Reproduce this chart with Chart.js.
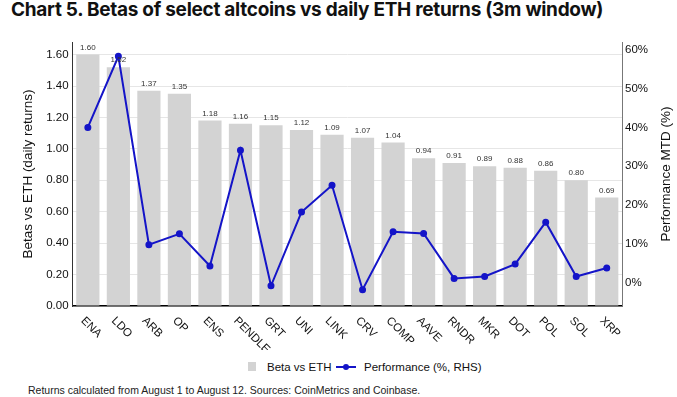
<!DOCTYPE html>
<html lang="en">
<head>
<meta charset="UTF-8">
<title>Chart 5</title>
<style>
  body { margin: 0; background: #fff; font-family: "Liberation Sans", Arial, sans-serif; }
  .wrap { position: relative; width: 677px; height: 397px; overflow: hidden; }
  h1 { position: absolute; left: 11px; top: 0px; margin: 0; font: 700 19px/20px Inter, sans-serif; color: #111; white-space: nowrap; letter-spacing: -0.28px; }
  #box { position: absolute; left: 0; top: 28px; width: 677px; height: 322px; }
  .lg { position: absolute; font-size: 11.5px; color: #111; white-space: nowrap; line-height: 14px; }
  .sq { position: absolute; left: 248px; top: 362px; width: 8px; height: 9px; background: #d3d3d3; }
  .ln { position: absolute; left: 336px; top: 366px; width: 20px; height: 2px; background: #1414c8; }
  .ln::after { content: ""; position: absolute; left: 7px; top: -2px; width: 6px; height: 6px; border-radius: 50%; background: #1414c8; }
  .note { position: absolute; left: 28px; top: 384px; font-size: 10.5px; color: #222; white-space: nowrap; }
</style>
</head>
<body>
<div class="wrap">
  <h1>Chart 5. Betas of select altcoins vs daily ETH returns (3m window)</h1>
  <div id="box"><canvas id="myChart"></canvas></div>
  <span class="sq"></span>
  <span class="lg" style="left:267px; top:360px;">Beta vs ETH</span>
  <span class="ln"></span>
  <span class="lg" style="left:364px; top:360px;">Performance (%, RHS)</span>
  <div class="note">Returns calculated from August 1 to August 12. Sources: CoinMetrics and Coinbase.</div>
</div>

<script src="https://cdn.jsdelivr.net/npm/chart.js"></script>
<script>
const coins = ['ENA', 'LDO', 'ARB', 'OP', 'ENS', 'PENDLE', 'GRT', 'UNI', 'LINK', 'CRV', 'COMP', 'AAVE', 'RNDR', 'MKR', 'DOT', 'POL', 'SOL', 'XRP'];
const betas = [1.60, 1.52, 1.37, 1.35, 1.18, 1.16, 1.15, 1.12, 1.09, 1.07, 1.04, 0.94, 0.91, 0.89, 0.88, 0.86, 0.80, 0.69];
const performance = [40, 58.3, 9.8, 12.6, 4.3, 34.1, -0.8, 18.2, 25.1, -1.8, 13.1, 12.7, 1.1, 1.6, 4.8, 15.6, 1.6, 3.8];
const betaTicks = [0, 0.2, 0.4, 0.6, 0.8, 1.0, 1.2, 1.4, 1.6];
const perfTicks = [0, 10, 20, 30, 40, 50, 60];

const sans = '"Liberation Sans", Arial, sans-serif';
const tickFont = { family: sans, size: 11.5 };

// bar value labels, slanted category labels, right axis title
const extras = {
  id: 'extras',
  afterDatasetsDraw(chart) {
    const ctx = chart.ctx;
    const meta = chart.getDatasetMeta(1);
    ctx.save();
    ctx.font = '8px ' + sans;
    ctx.fillStyle = '#333';
    ctx.textAlign = 'center';
    ctx.textBaseline = 'bottom';
    meta.data.forEach((bar, i) => {
      ctx.fillText(betas[i].toFixed(2), bar.x, bar.y - 3);
    });
    const x = chart.scales.x;
    ctx.font = '11.5px ' + sans;
    ctx.fillStyle = '#111';
    ctx.textAlign = 'left';
    ctx.textBaseline = 'middle';
    coins.forEach((c, i) => {
      ctx.save();
      ctx.translate(x.getPixelForValue(i) - 5, x.top + 13);
      ctx.rotate(Math.PI / 4);
      ctx.fillText(c, 0, 0);
      ctx.restore();
    });
    const y2 = chart.scales.y2;
    ctx.save();
    ctx.font = '13.5px ' + sans;
    ctx.textAlign = 'center';
    ctx.textBaseline = 'middle';
    ctx.translate(666, (y2.top + y2.bottom) / 2);
    ctx.rotate(-Math.PI / 2);
    ctx.fillText('Performance MTD (%)', 0, 0);
    ctx.restore();
    ctx.restore();
  }
};

new Chart(document.getElementById('myChart'), {
  data: {
    labels: coins,
    datasets: [
      {
        type: 'line',
        label: 'Performance (%, RHS)',
        data: performance,
        yAxisID: 'y2',
        borderColor: '#1414c8',
        backgroundColor: '#1414c8',
        borderWidth: 2,
        pointRadius: 2.5,
        tension: 0,
        order: 0
      },
      {
        type: 'bar',
        label: 'Beta vs ETH',
        data: betas,
        yAxisID: 'y',
        backgroundColor: '#d3d3d3',
        categoryPercentage: 1,
        barPercentage: 0.76,
        order: 1
      }
    ]
  },
  options: {
    responsive: true,
    maintainAspectRatio: false,
    animation: false,
    layout: { padding: { left: 20, right: 0, top: 14, bottom: 0 } },
    plugins: { legend: { display: false }, tooltip: { enabled: false } },
    scales: {
      x: {
        grid: { display: false, drawTicks: false },
        border: { color: '#000', width: 1.5 },
        ticks: { display: false },
        afterFit(s) { s.height = 44; }
      },
      y: {
        position: 'left',
        min: 0,
        max: 1.68,
        afterBuildTicks(s) { s.ticks = betaTicks.map(v => ({ value: v })); },
        ticks: { font: tickFont, color: '#111', padding: 4, callback: v => v.toFixed(2) },
        grid: { color: '#e6e6e6', drawTicks: false },
        border: { color: '#333' },
        title: { display: true, text: 'Betas vs ETH (daily returns)', font: { family: sans, size: 13.5 }, color: '#111', padding: { top: 0, bottom: 6 } }
      },
      y2: {
        position: 'right',
        min: -6,
        max: 62,
        afterBuildTicks(s) { s.ticks = perfTicks.map(v => ({ value: v })); },
        ticks: { font: tickFont, color: '#111', padding: 3, callback: v => v + '%' },
        grid: { display: false, drawTicks: false },
        border: { color: '#777' },
        afterFit(s) { s.width = 55; }
      }
    }
  },
  plugins: [extras]
});
</script>
</body>
</html>
